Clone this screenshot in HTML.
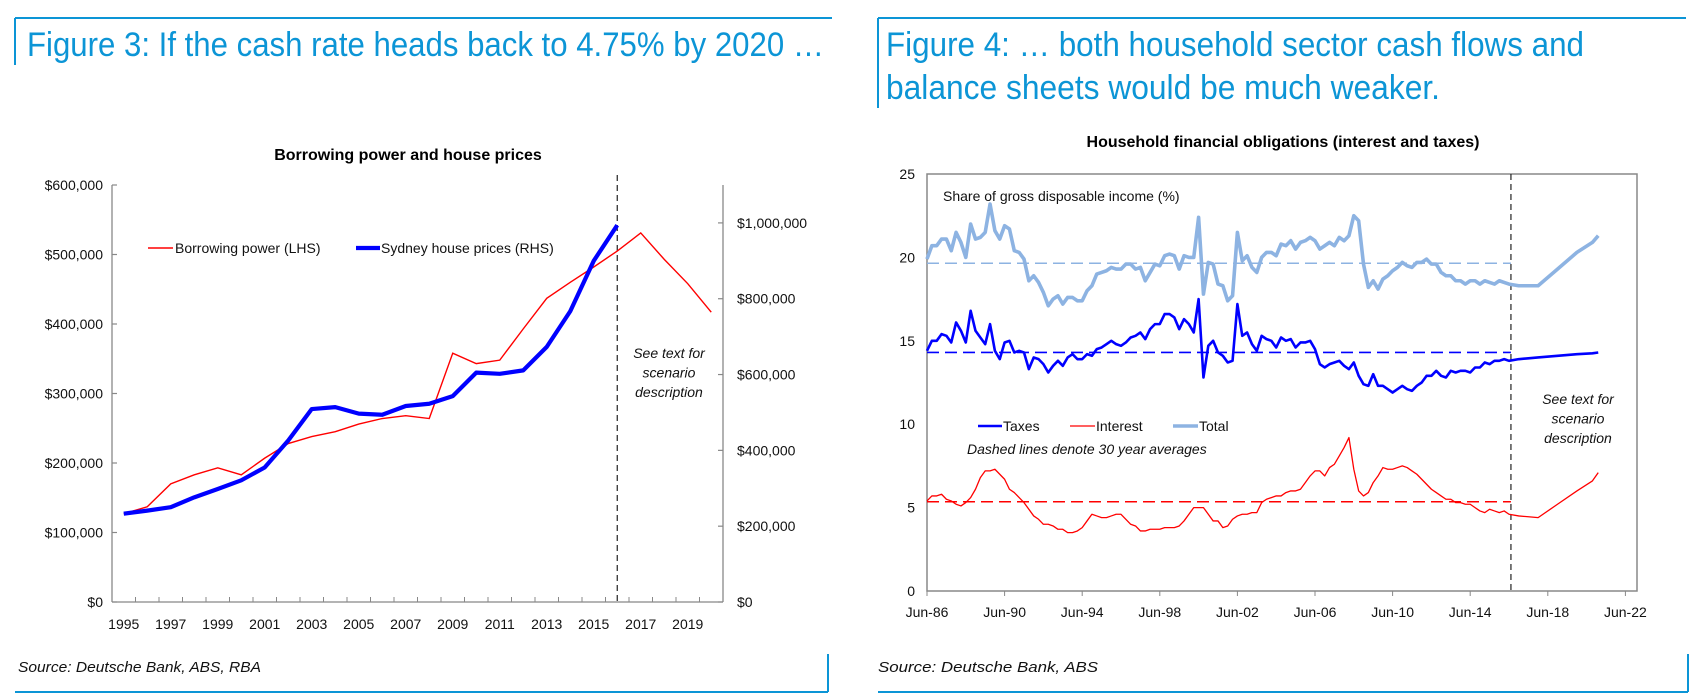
<!DOCTYPE html>
<html><head><meta charset="utf-8"><style>
html,body{margin:0;padding:0;background:#fff;}
svg{display:block;font-family:"Liberation Sans",sans-serif;}
</style></head><body>
<svg id="root" width="1695" height="699" viewBox="0 0 1695 699" xmlns="http://www.w3.org/2000/svg">
<g>
<line x1="15" y1="18" x2="832" y2="18" stroke="#0c95d6" stroke-width="2"/>
<line x1="15" y1="18" x2="15" y2="65" stroke="#0c95d6" stroke-width="2"/>
<text x="27" y="56" font-family="'Liberation Sans Narrow','Liberation Sans',sans-serif" font-size="34" fill="#0c95d6" textLength="797" lengthAdjust="spacingAndGlyphs">Figure 3: If the cash rate heads back to 4.75% by 2020 …</text>
</g>
<g>
<line x1="878" y1="18" x2="1686" y2="18" stroke="#0c95d6" stroke-width="2"/>
<line x1="878" y1="18" x2="878" y2="108" stroke="#0c95d6" stroke-width="2"/>
<text x="886" y="56" font-family="'Liberation Sans Narrow','Liberation Sans',sans-serif" font-size="34" fill="#0c95d6" textLength="698" lengthAdjust="spacingAndGlyphs">Figure 4: … both household sector cash flows and</text>
<text x="886" y="99" font-family="'Liberation Sans Narrow','Liberation Sans',sans-serif" font-size="34" fill="#0c95d6" textLength="554" lengthAdjust="spacingAndGlyphs">balance sheets would be much weaker.</text>
</g>
<g>
<text x="18" y="672" font-size="15" font-style="italic" fill="#111" textLength="243" lengthAdjust="spacingAndGlyphs">Source: Deutsche Bank, ABS, RBA</text>
<line x1="15" y1="692" x2="828" y2="692" stroke="#0c95d6" stroke-width="2"/>
<line x1="828" y1="654" x2="828" y2="692" stroke="#0c95d6" stroke-width="2"/>
</g>
<g>
<text x="878" y="672" font-size="15" font-style="italic" fill="#111" textLength="220" lengthAdjust="spacingAndGlyphs">Source: Deutsche Bank, ABS</text>
<line x1="878" y1="692" x2="1688" y2="692" stroke="#0c95d6" stroke-width="2"/>
<line x1="1688" y1="654" x2="1688" y2="692" stroke="#0c95d6" stroke-width="2"/>
</g>
<g id="chart1"></g>
<g id="chart2"></g>
</svg>
<script>
const years = [1995,1996,1997,1998,1999,2000,2001,2002,2003,2004,2005,2006,2007,2008,2009,2010,2011,2012,2013,2014,2015,2016,2017,2018,2019,2020];
const borrowingPower = [127000,137000,170000,183000,193000,183000,207000,228000,238000,245000,256000,264000,268000,264000,358000,343000,348000,393000,437000,460000,482000,505000,531000,493000,458000,417000];
const sydneyPrices = [233000,241000,250000,276000,298000,321000,355000,426000,509000,514000,497000,494000,517000,523000,543000,605000,602000,611000,673000,767000,900000,994000];
const leftTicks = [0,100000,200000,300000,400000,500000,600000];
const leftTickLabels = ["$0","$100,000","$200,000","$300,000","$400,000","$500,000","$600,000"];
const rightTicks = [0,200000,400000,600000,800000,1000000];
const rightTickLabels = ["$0","$200,000","$400,000","$600,000","$800,000","$1,000,000"];
const scenarioYear1 = 2016;

const qStart = 1986.5;
const totalSeries = [19.9,20.7,20.7,21.1,21.1,20.4,21.5,20.9,20.0,22.0,21.1,21.2,21.5,23.2,21.6,21.1,21.9,21.7,20.4,20.3,19.9,18.6,18.9,18.5,17.9,17.1,17.5,17.7,17.2,17.6,17.6,17.4,17.4,18.0,18.3,19.0,19.1,19.2,19.4,19.3,19.3,19.6,19.6,19.3,19.4,18.6,19.1,19.6,19.5,20.1,20.2,20.1,19.3,20.1,20.0,20.0,22.4,17.8,19.7,19.6,18.4,18.3,17.4,17.7,21.5,19.8,20.1,19.4,19.1,20.0,20.3,20.3,20.1,20.8,20.7,21.0,20.5,20.9,21.0,21.2,21.0,20.5,20.7,20.9,20.7,21.2,21.0,21.3,22.5,22.2,19.6,18.2,18.6,18.1,18.7,18.9,19.2,19.4,19.7,19.5,19.4,19.7,19.7,19.9,19.6,19.6,19.1,18.9,18.9,18.6,18.6,18.4,18.6,18.6,18.4,18.6,18.5,18.4,18.6,18.5,18.4];
const taxesSeries = [14.4,15.0,15.0,15.4,15.3,14.9,16.1,15.6,14.9,16.8,15.6,15.2,14.8,16.0,14.4,13.9,14.9,15.0,14.3,14.4,14.3,13.3,14.0,13.9,13.6,13.1,13.5,13.8,13.5,14.0,14.2,13.9,13.9,14.2,14.1,14.5,14.6,14.8,15.0,14.8,14.7,14.9,15.2,15.3,15.5,15.1,15.7,16.0,16.0,16.6,16.6,16.4,15.7,16.3,16.0,15.5,17.5,12.8,14.7,15.0,14.3,14.1,13.7,13.8,17.2,15.3,15.5,14.8,14.4,15.3,15.1,15.0,14.6,15.2,15.0,15.1,14.6,14.9,14.9,15.0,14.5,13.6,13.4,13.6,13.7,13.8,13.5,13.3,13.7,12.9,12.4,12.3,13.0,12.3,12.3,12.1,11.9,12.1,12.3,12.1,12.0,12.3,12.5,12.9,12.9,13.2,12.9,12.8,13.2,13.1,13.2,13.2,13.1,13.4,13.4,13.7,13.6,13.8,13.8,13.9,13.8];
const interestSeries = [5.4,5.7,5.7,5.8,5.5,5.4,5.2,5.1,5.3,5.6,6.1,6.8,7.2,7.2,7.3,7.0,6.7,6.1,5.9,5.6,5.3,4.9,4.5,4.3,4.0,4.0,3.9,3.7,3.7,3.5,3.5,3.6,3.8,4.2,4.6,4.5,4.4,4.4,4.5,4.6,4.6,4.3,4.0,3.9,3.6,3.6,3.7,3.7,3.7,3.8,3.8,3.8,3.9,4.2,4.6,5.0,5.0,5.0,4.6,4.2,4.2,3.8,3.9,4.3,4.5,4.6,4.6,4.7,4.7,5.3,5.5,5.6,5.7,5.7,5.9,6.0,6.0,6.1,6.5,6.9,7.2,7.2,6.9,7.4,7.6,8.1,8.6,9.2,7.3,6.0,5.7,5.9,6.5,6.9,7.4,7.3,7.3,7.4,7.5,7.4,7.2,7.0,6.7,6.4,6.1,5.9,5.7,5.5,5.5,5.3,5.3,5.2,5.2,5.0,4.8,4.7,4.9,4.8,4.7,4.8,4.6];
const projDates = [2016.5,2017.0,2017.5,2018.0,2019.0,2020.0,2020.8,2021.1];
const projTotal = [18.4,18.3,18.3,18.3,19.3,20.3,20.9,21.3];
const projTaxes = [13.8,13.9,13.95,14.0,14.1,14.2,14.25,14.3];
const projInterest = [4.6,4.5,4.45,4.4,5.2,6.0,6.6,7.1];
const averages = [19.65,14.3,5.35];
const yTicks2 = [0,5,10,15,20,25];
const xTickYears2 = [1986.5,1990.5,1994.5,1998.5,2002.5,2006.5,2010.5,2014.5,2018.5,2022.5];
const xTickLabels2 = ["Jun-86","Jun-90","Jun-94","Jun-98","Jun-02","Jun-06","Jun-10","Jun-14","Jun-18","Jun-22"];
const scenarioDate2 = 2016.6;

const NS = "http://www.w3.org/2000/svg";
function mk(parent, tag, attrs, text){
  const e = document.createElementNS(NS, tag);
  for (const k in attrs) e.setAttribute(k, attrs[k]);
  if (text !== undefined) e.textContent = text;
  parent.appendChild(e);
  return e;
}

(function(){
  const g = document.getElementById('chart1');
  const L = 112, R = 723, T = 185, B = 602;
  const n = years.length, cw = (R - L) / n;
  const xc = i => L + cw * (i + 0.5);
  const yL = v => B - (v / 600000) * (B - T);
  const yR = v => B - (v / 1100000) * (B - T);
  let t = mk(g,'text',{x:408,y:160,'text-anchor':'middle','font-size':16,'font-weight':'bold',fill:'#000'},'Borrowing power and house prices');
  
  
  let a = mk(g,'line',{x1:L,y1:T,x2:L,y2:B,stroke:'#888','stroke-width':1.3});
   
  a = mk(g,'line',{x1:R,y1:T,x2:R,y2:B,stroke:'#888','stroke-width':1.3});
   
  a = mk(g,'line',{x1:L,y1:B,x2:R,y2:B,stroke:'#888','stroke-width':1.3});
   
  leftTicks.forEach((v,i)=>{
    mk(g,'line',{x1:L,y1:yL(v),x2:L+5,y2:yL(v),stroke:'#888','stroke-width':1.2});
    const lb = mk(g,'text',{x:L-9,y:yL(v)+5,'text-anchor':'end','font-size':14,fill:'#111'},leftTickLabels[i]);
     
  });
  rightTicks.forEach((v,i)=>{
    mk(g,'line',{x1:R-5,y1:yR(v),x2:R,y2:yR(v),stroke:'#888','stroke-width':1.2});
    const lb = mk(g,'text',{x:R+14,y:yR(v)+5,'font-size':14,fill:'#111'},rightTickLabels[i]);
     
  });
  for (let i=1;i<n;i++) mk(g,'line',{x1:L+cw*i,y1:B-5,x2:L+cw*i,y2:B,stroke:'#888','stroke-width':1});
  years.forEach((yv,i)=>{
    if (i%2===0){
      const lb = mk(g,'text',{x:xc(i),y:629,'text-anchor':'middle','font-size':14,fill:'#111'},String(yv));
       
    }
  });
  const sx = xc(years.indexOf(scenarioYear1));
  let d = mk(g,'line',{x1:sx,y1:T-10,x2:sx,y2:B,stroke:'#222','stroke-width':1.2,'stroke-dasharray':'6,4'});
   
  ['See text for','scenario','description'].forEach((s,i)=>{
    const st = mk(g,'text',{x:669,y:358+i*19.5,'text-anchor':'middle','font-size':14,'font-style':'italic',fill:'#111'},s);
     
  });
  let p1 = mk(g,'polyline',{points:borrowingPower.map((v,i)=>xc(i)+','+yL(v)).join(' '),fill:'none',stroke:'#ff0000','stroke-width':1.4});
   
  let p2 = mk(g,'polyline',{points:sydneyPrices.map((v,i)=>xc(i)+','+yR(v)).join(' '),fill:'none',stroke:'#0000ff','stroke-width':4.2,'stroke-linejoin':'round'});
   
  const lg = mk(g,'g',{});
   
  mk(lg,'line',{x1:148,y1:248,x2:173,y2:248,stroke:'#ff0000','stroke-width':1.4});
  let le = mk(lg,'text',{x:175,y:253,'font-size':14,fill:'#111'},'Borrowing power (LHS)');
   
  mk(lg,'line',{x1:356,y1:248,x2:380,y2:248,stroke:'#0000ff','stroke-width':4.2});
  le = mk(lg,'text',{x:381,y:253,'font-size':14,fill:'#111'},'Sydney house prices (RHS)');
   
})();

(function(){
  const g = document.getElementById('chart2');
  const L = 927, R = 1637, T = 174, B = 591;
  const pxYr = 19.4;
  const x = yr => L + (yr - 1986.5) * pxYr;
  const y = v => B - (v / 25) * (B - T);
  const qd = i => qStart + i * 0.25;
  let t = mk(g,'text',{x:1283,y:147,'text-anchor':'middle','font-size':16,'font-weight':'bold',fill:'#000'},'Household financial obligations (interest and taxes)');
   
  let fr = mk(g,'rect',{x:L,y:T,width:R-L,height:B-T,fill:'none',stroke:'#888','stroke-width':1.5});
   
  yTicks2.forEach(v=>{
    const lb = mk(g,'text',{x:915,y:y(v)+5,'text-anchor':'end','font-size':14,fill:'#111'},String(v));
     
  });
  xTickYears2.forEach((yr,i)=>{
    mk(g,'line',{x1:x(yr),y1:B,x2:x(yr),y2:B+5,stroke:'#888','stroke-width':1});
    const lb = mk(g,'text',{x:x(yr),y:617,'text-anchor':'middle','font-size':14,fill:'#111'},xTickLabels2[i]);
     
  });
  const sx = x(scenarioDate2);
  let d = mk(g,'line',{x1:sx,y1:T,x2:sx,y2:B,stroke:'#222','stroke-width':1.2,'stroke-dasharray':'6,4'});
   
  const avgColors = ['#8db3e2','#0000ff','#ff0000'];
  averages.forEach((v,i)=>{
    const al = mk(g,'line',{x1:L,y1:y(v),x2:sx,y2:y(v),stroke:avgColors[i],'stroke-width':1.6,'stroke-dasharray':'12,6'});
     
  });
  function series(vals, proj, color, w, name){
    const pts = vals.map((v,i)=>x(qd(i))+','+y(v)).concat(proj.map((v,i)=>x(projDates[i])+','+y(v)));
    const pl = mk(g,'polyline',{points:pts.join(' '),fill:'none',stroke:color,'stroke-width':w,'stroke-linejoin':'round'});
    
    
  }
  series(totalSeries, projTotal, '#8db3e2', 3.6, 'total-line');
  series(taxesSeries, projTaxes, '#0000ff', 2.6, 'taxes-line');
  series(interestSeries, projInterest, '#ff0000', 1.3, 'interest-line');
  let s = mk(g,'text',{x:943,y:201,'font-size':14,fill:'#111'},'Share of gross disposable income (%)');
   
  const lg = mk(g,'g',{});
   
  mk(lg,'line',{x1:978,y1:426,x2:1002,y2:426,stroke:'#0000ff','stroke-width':2.6});
  let le = mk(lg,'text',{x:1003,y:431,'font-size':14,fill:'#111'},'Taxes');
   
  mk(lg,'line',{x1:1070,y1:426,x2:1095,y2:426,stroke:'#ff0000','stroke-width':1.3});
  le = mk(lg,'text',{x:1096,y:431,'font-size':14,fill:'#111'},'Interest');
   
  mk(lg,'line',{x1:1173,y1:426,x2:1198,y2:426,stroke:'#8db3e2','stroke-width':3.6});
  le = mk(lg,'text',{x:1199,y:431,'font-size':14,fill:'#111'},'Total');
   
  let n = mk(g,'text',{x:967,y:454,'font-size':14,'font-style':'italic',fill:'#111'},'Dashed lines denote 30 year averages');
   
  ['See text for','scenario','description'].forEach((str,i)=>{
    const st = mk(g,'text',{x:1578,y:404+i*19.5,'text-anchor':'middle','font-size':14,'font-style':'italic',fill:'#111'},str);
     
  });
})();
</script>
</body></html>
